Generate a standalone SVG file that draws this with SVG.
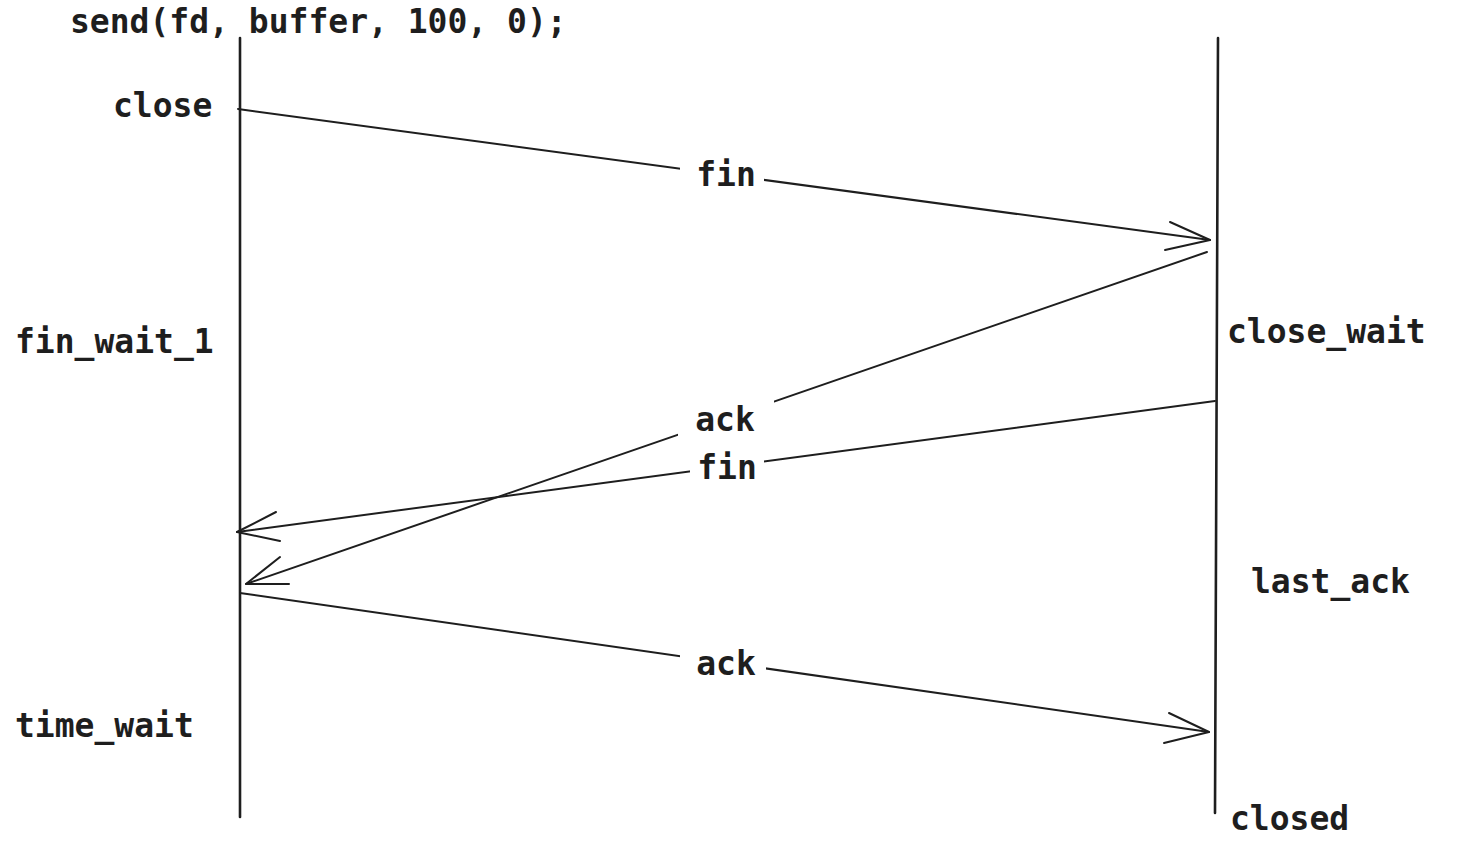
<svg xmlns="http://www.w3.org/2000/svg" width="1463" height="863" viewBox="0 0 1463 863">
<style>
text{font-family:"DejaVu Sans Mono","Liberation Mono",monospace;font-size:33px;font-weight:bold;fill:#1e1e1e}
.ln{stroke:#1e1e1e;stroke-width:2;fill:none;stroke-linecap:round;stroke-linejoin:round}
.lf{stroke:#1e1e1e;stroke-width:2.6;fill:none;stroke-linecap:round}
.bg{fill:#ffffff}
.c{text-anchor:middle}
</style>
<rect width="1463" height="863" fill="#ffffff"/>
<g id="title"><text x="70" y="33">send(fd, buffer, 100, 0);</text></g>
<g id="client-lifeline"><line class="lf" x1="240" y1="38" x2="240" y2="817"/></g>
<g id="server-lifeline"><line class="lf" x1="1218" y1="38" x2="1215" y2="813"/></g>
<g id="connectors">
  <line class="ln" x1="238" y1="109" x2="1210" y2="240"/>
  <polyline class="ln" points="1170,222 1210,240 1165,250"/>
  <line class="ln" x1="1207" y1="252" x2="246" y2="584"/>
  <polyline class="ln" points="280,557 246,584 289,584"/>
  <line class="ln" x1="1215" y1="401" x2="237" y2="532"/>
  <polyline class="ln" points="276,512 237,532 280,541"/>
  <line class="ln" x1="240" y1="593" x2="1209" y2="732"/>
  <polyline class="ln" points="1169,713 1209,732 1164,743"/>
</g>
<g id="label-fin1"><rect class="bg" x="680" y="156" width="84" height="36"/><text class="c" x="726" y="186">fin</text></g>
<g id="label-ack1"><rect class="bg" x="678" y="400" width="96" height="38"/><text class="c" x="725" y="431">ack</text></g>
<g id="label-fin2"><rect class="bg" x="690" y="450" width="74" height="34"/><text class="c" x="727" y="479">fin</text></g>
<g id="label-ack2"><rect class="bg" x="680" y="646" width="86" height="34"/><text class="c" x="726" y="675">ack</text></g>
<g id="state-close"><text x="113" y="117">close</text></g>
<g id="state-fin_wait_1"><text x="15" y="353">fin_wait_1</text></g>
<g id="state-time_wait"><text x="15" y="737">time_wait</text></g>
<g id="state-close_wait"><text x="1227" y="343">close_wait</text></g>
<g id="state-last_ack"><text x="1251" y="593">last_ack</text></g>
<g id="state-closed"><text x="1230" y="830">closed</text></g>
</svg>
